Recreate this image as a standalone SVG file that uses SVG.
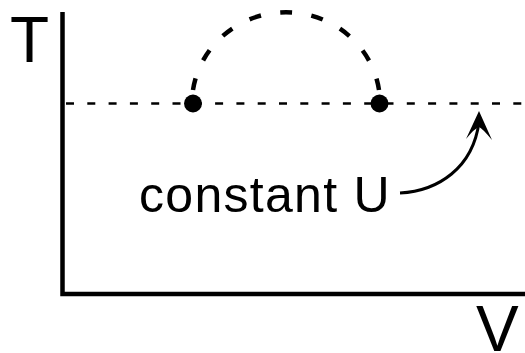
<svg xmlns="http://www.w3.org/2000/svg" width="525" height="353" viewBox="0 0 525 353">
<style>
.lbl{font-family:"Liberation Sans",Arial,sans-serif;fill:#000}
.axis{fill:none;stroke:#000;stroke-width:4.5;stroke-linejoin:miter}
.iso{fill:none;stroke:#000;stroke-width:2.5;stroke-dasharray:8 13.3}
.proc{fill:none;stroke:#000;stroke-width:4.5;stroke-dasharray:12 19.5}
.pt{fill:#000}
</style>
<rect width="525" height="353" fill="#fff"/>
<g id="axes">
<path class="axis" d="M62.5 12 V294 H525"/>
<text class="lbl" x="10" y="62" font-size="64">T</text>
<text class="lbl" x="476" y="351" font-size="64">V</text>
</g>
<g id="connectors">
<path class="iso" d="M66 103.5 H525"/>
<path class="proc" d="M193 90 A94 91 0 0 1 379 90"/>
<path fill="none" stroke="#000" stroke-width="3" d="M400 193 C438 191 473 168 479 122"/>
<path fill="#000" d="M479 111 L492 140 Q482 128 479 127 Q475 128 466 139 Z"/>
</g>
<g id="state1"><circle class="pt" cx="193" cy="103.5" r="9"/></g>
<g id="state2"><circle class="pt" cx="379.5" cy="103.5" r="9"/></g>
<g id="label"><text class="lbl" x="139" y="212" font-size="50" letter-spacing="1.3">constant U</text></g>
</svg>
